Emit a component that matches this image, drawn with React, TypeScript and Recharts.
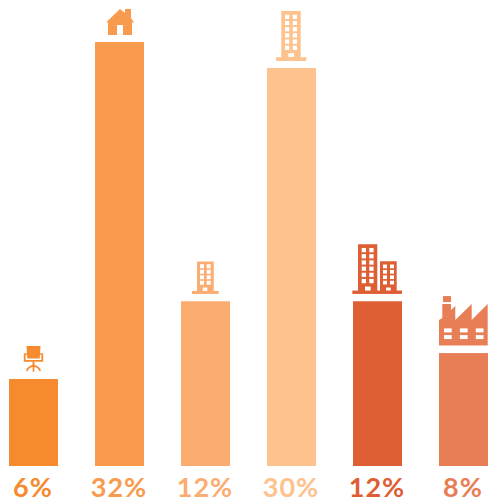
import React from 'react';
import { BarChart, Bar, Cell, XAxis, YAxis } from 'recharts';

const categories = ['Office', 'Home', 'Small office', 'Tower', 'Blocks', 'Factory'];
const shares = [6, 32, 12, 30, 12, 8];
const colors = ['#F68A2E', '#F99B4F', '#FBAC71', '#FDC28E', '#DF5F35', '#E77E56'];

// every column starts a little under zero so the smallest ones stay visible
const BASE_VALUE = -0.713;
const TOP_VALUE = 35.244;

const data = categories.map((name, i) => ({ name, share: shares[i], range: [BASE_VALUE, shares[i]] }));

const Windows = ({ x, y, w, h, cols, rows, dx, dy }: any) => (
  <>
    {Array.from({ length: cols * rows }, (_, k) => (
      <rect
        key={k}
        x={x + (k % cols) * dx}
        y={y + Math.floor(k / cols) * dy}
        width={w}
        height={h}
        fill="#fff"
      />
    ))}
  </>
);

const ChairIcon = ({ color }: { color: string }) => (
  <g>
    <path d="M-7 -33 H7 L6.2 -20.5 H-6.2 Z" fill={color} />
    <path d="M-8.8 -24.5 V-18.2 H8.8 V-24.5" fill="none" stroke={color} strokeWidth={1.8} />
    <path d="M-9.7 -25 H-6 M6 -25 H9.7" stroke={color} strokeWidth={1.4} />
    <rect x={-1} y={-17.5} width={2} height={4.5} fill={color} />
    <path d="M-6.8 -8.2 Q-5 -12.3 0 -13.3 Q5 -12.3 6.8 -8.2 M0 -13.3 V-7.3" fill="none" stroke={color} strokeWidth={1.7} />
  </g>
);

const HouseIcon = ({ color }: { color: string }) => (
  <path
    d="M-13.5 -19.5 L0.5 -33 L5.5 -29 V-33 H11.5 V-24 L14.5 -19.5 H12.5 V-7 H3.5 V-17 H-2.5 V-7 H-11.5 V-19.5 Z"
    fill={color}
  />
);

const SmallBuildingIcon = ({ color }: { color: string }) => (
  <g>
    <rect x={-8.5} y={-39.7} width={16.7} height={30.5} fill={color} />
    <rect x={-13.5} y={-10.3} width={26.7} height={3} fill={color} />
    <Windows x={-5.5} y={-37} w={4} h={4} cols={2} rows={4} dx={6.7} dy={5.5} />
    <rect x={-2.8} y={-13.7} width={4.6} height={3.4} fill="#fff" />
  </g>
);

const TowerIcon = ({ color }: { color: string }) => (
  <g>
    <rect x={-10.2} y={-57} width={19.4} height={47} fill={color} />
    <rect x={-15.5} y={-10.7} width={30.3} height={3.7} fill={color} />
    <Windows x={-6.5} y={-53.3} w={4.3} h={4.3} cols={2} rows={6} dx={7.7} dy={6.2} />
    <rect x={-3.2} y={-14.7} width={5.7} height={3.7} fill="#fff" />
  </g>
);

const TwinBuildingsIcon = ({ color }: { color: string }) => (
  <g>
    <rect x={-19.5} y={-57} width={19.3} height={47} fill={color} />
    <rect x={2.5} y={-40} width={16.7} height={30} fill={color} />
    <rect x={-25.2} y={-10.7} width={49.7} height={3.4} fill={color} />
    <Windows x={-15.8} y={-53.3} w={4.3} h={4.3} cols={2} rows={6} dx={7.6} dy={6.2} />
    <Windows x={5.5} y={-36.7} w={4} h={3.7} cols={2} rows={4} dx={7} dy={5.4} />
    <rect x={-12.5} y={-14.7} width={5.7} height={4} fill="#fff" />
    <rect x={8.5} y={-13.7} width={4.7} height={3} fill="#fff" />
  </g>
);

const FactoryIcon = ({ color }: { color: string }) => (
  <g>
    <rect x={-20.5} y={-57} width={8} height={6} fill={color} />
    <path
      d="M-24.5 -33 L-21.2 -35 V-49 H-12.5 V-43 L-8.2 -47 V-33 L8.2 -49 V-33 L24.2 -49 V-7.7 H-24.5 Z"
      fill={color}
    />
    <Windows x={-19.5} y={-24.7} w={7.7} h={4} cols={3} rows={1} dx={15.9} dy={0} />
    <Windows x={-19.5} y={-18} w={7.7} h={4} cols={3} rows={1} dx={15.9} dy={0} />
  </g>
);

const icons = [ChairIcon, HouseIcon, SmallBuildingIcon, TowerIcon, TwinBuildingsIcon, FactoryIcon];

// column plus the pictogram that sits on top of it
const ColumnWithIcon = (props: any) => {
  const { x, y, width, height, index } = props;
  const Icon = icons[index];
  return (
    <g>
      <rect x={x} y={y} width={width} height={height} fill={colors[index]} />
      <g transform={`translate(${x + width / 2},${y})`}>
        <Icon color={colors[index]} />
      </g>
    </g>
  );
};

const ShareTick = (props: any) => {
  const { x, index } = props;
  return (
    <text
      x={x}
      y={497}
      textAnchor="middle"
      fontFamily="Lato"
      fontWeight={700}
      fontSize={27}
      letterSpacing={1}
      fill={colors[index]}
    >
      {shares[index]}%
    </text>
  );
};

export default function App() {
  return (
    <div style={{ position: 'absolute', left: 0, top: 0 }}>
      <BarChart width={490} height={502} data={data} margin={{ top: 0, right: 0.5, bottom: 0, left: -0.5 }}>
        <XAxis
          dataKey="name"
          scale="point"
          padding={{ left: 33.5, right: 26.5 }}
          height={36}
          interval={0}
          axisLine={false}
          tickLine={false}
          tick={<ShareTick />}
        />
        <YAxis hide domain={[BASE_VALUE, TOP_VALUE]} />
        <Bar dataKey="range" barSize={49} shape={<ColumnWithIcon />} isAnimationActive={false}>
          {data.map((d, i) => (
            <Cell key={d.name} fill={colors[i]} />
          ))}
        </Bar>
      </BarChart>
    </div>
  );
}
